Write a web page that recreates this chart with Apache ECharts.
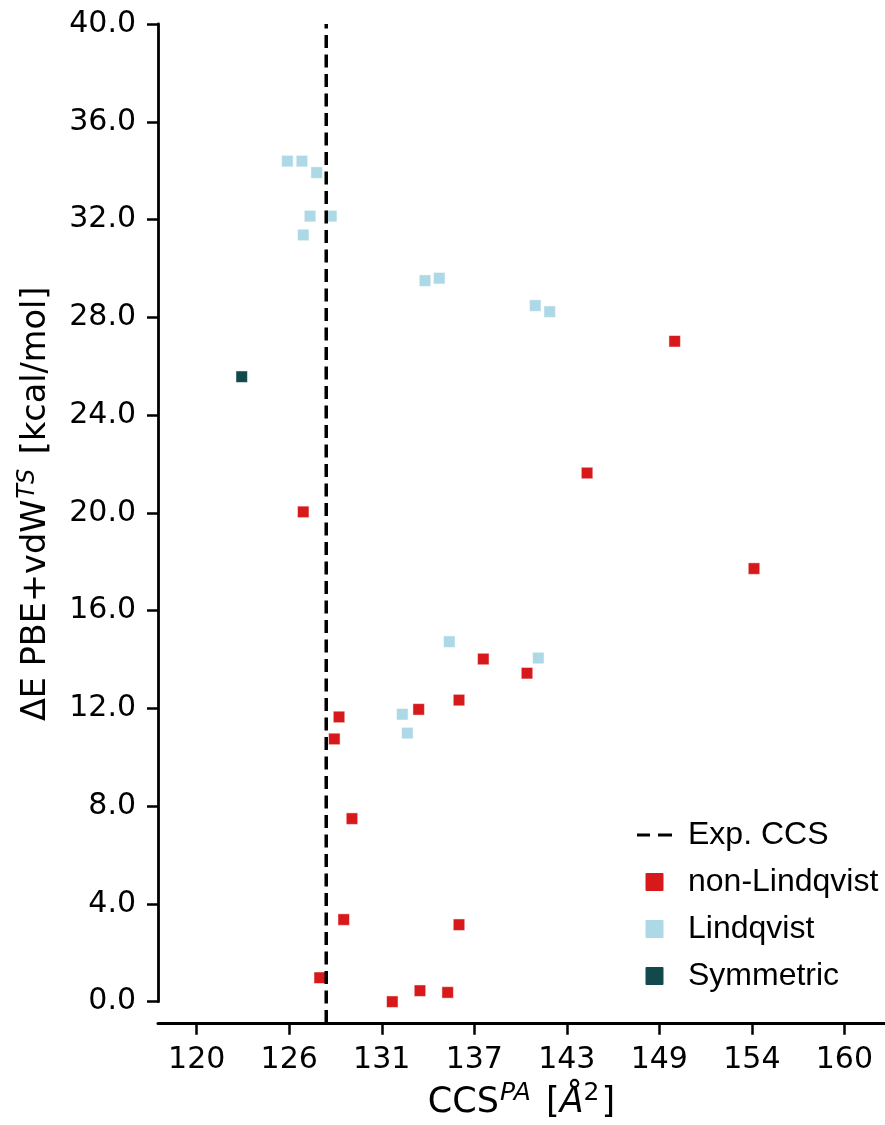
<!DOCTYPE html>
<html>
<head>
<meta charset="utf-8">
<script src="https://cdn.jsdelivr.net/npm/echarts@6/dist/echarts.min.js"></script>
<style>
html,body{margin:0;padding:0;background:#fff;}
#chart{width:885px;height:1125px;}
</style>
</head>
<body>
<div id="chart"></div>
<script>
// ---- data ----
const nonLindqvistX = [149.52, 144.11, 126.58, 154.42, 137.70, 140.40, 136.20, 133.71, 128.79, 128.50, 129.59, 129.08, 136.20, 127.60, 132.08, 133.79, 135.50];
const nonLindqvistY = [27.02, 21.63, 20.04, 17.72, 14.02, 13.44, 12.34, 11.96, 11.65, 10.75, 7.49, 3.36, 3.15, 0.98, 0.00, 0.45, 0.38];
const lindqvistX = [125.60, 126.50, 127.41, 127.00, 128.31, 126.58, 134.10, 134.98, 140.91, 141.80, 135.60, 141.10, 132.70, 133.01];
const lindqvistY = [34.39, 34.39, 33.92, 32.14, 32.14, 31.37, 29.50, 29.60, 28.48, 28.23, 14.73, 14.06, 11.76, 10.99];
const symmetricX = [122.78];
const symmetricY = [25.57];
const expCCS = 128.0;
const xTickValues = [120, 125.714, 131.429, 137.143, 142.857, 148.571, 154.286, 160];
const xTickLabels = ['120', '126', '131', '137', '143', '149', '154', '160'];
const yMin = 0, yMax = 40, yStep = 4;
const xMin = 117.61, xMax = 162.51;
const lineBottom = -0.87;

function zip(xs, ys) { return xs.map((x, i) => [x, ys[i]]); }

const tickFont = 'DejaVu Sans';
const chart = echarts.init(document.getElementById('chart'), null, {renderer: 'canvas'});

const xRich = {
  n: {fontFamily: tickFont, fontSize: 35, lineHeight: 40, color: '#000'},
  it: {fontFamily: tickFont, fontSize: 35, lineHeight: 40, fontStyle: 'italic', color: '#000'},
  sup: {fontFamily: tickFont, fontSize: 25, lineHeight: 20, fontStyle: 'italic', color: '#000', padding: [0, 4, 18, 1]},
  sup2: {fontFamily: tickFont, fontSize: 25, lineHeight: 20, color: '#000', padding: [0, 2, 18, 0]}
};
const yRich = {
  n: {fontFamily: tickFont, fontSize: 33.5, lineHeight: 38, color: '#000'},
  sup: {fontFamily: tickFont, fontSize: 24, lineHeight: 19, fontStyle: 'italic', color: '#000', padding: [0, 4, 17, 1]}
};

const squareStyle = (c) => ({color: c, opacity: 1, borderColor: '#fff', borderWidth: 0.5});
const squareIcon = 'path://M2,0h16a2,2 0 0 1 2,2v16a2,2 0 0 1 -2,2h-16a2,2 0 0 1 -2,-2v-16a2,2 0 0 1 2,-2z';
const dashIcon = 'path://M0,0h13v3h-13zM21,0h14v3h-14z';

chart.setOption({
  animation: false,
  backgroundColor: '#fff',
  grid: {left: 158, right: 0, top: 24, bottom: 123.3, containLabel: false, outerBoundsMode: 'none'},
  xAxis: {
    type: 'value', min: xMin, max: xMax, offset: 22,
    name: '{n|CCS}{sup|PA}{n| [}{it|Å}{sup2|2}{n|]}',
    nameLocation: 'middle', nameGap: 59,
    nameTextStyle: {rich: xRich},
    axisLine: {show: true, onZero: false, lineStyle: {color: '#000', width: 3}},
    axisTick: {show: true, length: 11, customValues: xTickValues, lineStyle: {color: '#000', width: 2.5}},
    axisLabel: {
      customValues: xTickValues, margin: 22, fontFamily: tickFont, fontSize: 30, color: '#000',
      formatter: function (v) {
        let best = 0;
        for (let i = 1; i < xTickValues.length; i++) if (Math.abs(xTickValues[i] - v) < Math.abs(xTickValues[best] - v)) best = i;
        return xTickLabels[best];
      }
    },
    splitLine: {show: false}
  },
  yAxis: {
    type: 'value', min: yMin, max: yMax, interval: yStep,
    name: '{n|ΔE PBE+vdW}{sup|TS}{n| [kcal/mol]}',
    nameLocation: 'middle', nameGap: 103,
    nameTextStyle: {rich: yRich, padding: [0, 0, 0, 18]},
    axisLine: {show: true, lineStyle: {color: '#000', width: 2.8}},
    axisTick: {show: true, length: 11, lineStyle: {color: '#000', width: 2.5}},
    axisLabel: {margin: 22, fontFamily: tickFont, fontSize: 30, color: '#000', formatter: v => v.toFixed(1)},
    splitLine: {show: false}
  },
  legend: {
    orient: 'vertical', left: 637, top: 819, padding: 0,
    itemWidth: 35, itemHeight: 20, itemGap: 15,
    symbolKeepAspect: true,
    textStyle: {fontFamily: 'Liberation Sans, Arial', fontSize: 32, color: '#000', padding: [0, 0, 0, 11]},
    data: [
      {name: 'Exp. CCS', icon: dashIcon, itemStyle: {color: '#000'}},
      {name: 'non-Lindqvist', icon: squareIcon},
      {name: 'Lindqvist', icon: squareIcon},
      {name: 'Symmetric', icon: squareIcon}
    ]
  },
  series: [
    {
      name: 'non-Lindqvist', type: 'scatter', symbol: 'rect', symbolSize: 11.5,
      itemStyle: squareStyle('#d7191c'), data: zip(nonLindqvistX, nonLindqvistY), z: 2
    },
    {
      name: 'Lindqvist', type: 'scatter', symbol: 'rect', symbolSize: 11.5,
      itemStyle: squareStyle('#add8e6'), data: zip(lindqvistX, lindqvistY), z: 2
    },
    {
      name: 'Symmetric', type: 'scatter', symbol: 'rect', symbolSize: 11.5,
      itemStyle: squareStyle('#124a4b'), data: zip(symmetricX, symmetricY), z: 2
    },
    {
      name: 'Exp. CCS', type: 'line', symbol: 'none', clip: false, silent: true, z: 5,
      lineStyle: {color: '#000', width: 3.5, type: [13, 6.5]},
      itemStyle: {color: '#000'},
      data: [[expCCS, lineBottom], [expCCS, yMax]]
    }
  ]
});
</script>
</body>
</html>
